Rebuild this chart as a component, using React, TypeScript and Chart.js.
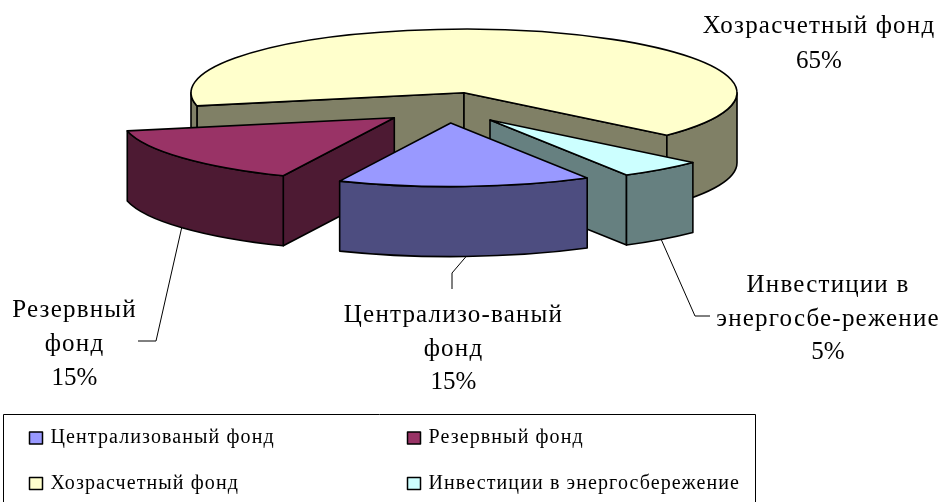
import React, { useEffect, useRef } from "react";
import { Chart, registerables } from "chart.js";

Chart.register(...registerables);

const categories = ["Централизованый фонд", "Резервный фонд", "Хозрасчетный фонд", "Инвестиции в энергосбережение"];
const shares = [15, 15, 65, 5];
const calloutLines = [["Централизо-ваный", "фонд"], ["Резервный", "фонд"], ["Хозрасчетный фонд"], ["Инвестиции в", "энергосбе-режение"]];
const topColors = ["#9999FF", "#993366", "#FFFFCC", "#CCFFFF"];
const wallColors = ["#4D4D80", "#4D1A33", "#808066", "#668080"];

// Projection of the flat pie produced by the library to the tilted 3D look
const CX = 464, CY = 92.7, RX = 273, RY = 63.6, DEPTH = 70;
const explodeX = [-13.3, -69.7, 0, 26];
const explodeY = [30.3, 25, 0, 27.3];
const paintOrder = [2, 1, 3, 0];
const calloutCenterX = [453.5, 74.5, 819, 828];
const calloutFirstBaseline = [322, 317, 33, 292];
const calloutLineGap = [33.5, 34, 35, 33.5];
const leaders: number[][][] = [
  [[465.7, 257], [452, 273], [452, 289]],
  [[181.7, 227.7], [156, 341], [138, 341]],
  [],
  [[661, 239], [695, 316], [710, 316]],
];
const legendSwatchX = [29, 407, 29, 407];
const legendSwatchY = [431.5, 431.5, 477, 477];

const SERIF = '"Liberation Serif", "Times New Roman", serif';
const TWO_PI = Math.PI * 2;

function drawSlice(ctx: CanvasRenderingContext2D, arc: any, i: number) {
  const a1 = arc.startAngle as number;
  const a2 = arc.endAngle as number;
  const ox = CX + explodeX[i];
  const oy = CY + explodeY[i];
  const pt = (a: number): [number, number] => [ox + RX * Math.cos(a), oy + RY * Math.sin(a)];

  ctx.lineJoin = "round";
  ctx.lineWidth = 1.6;
  ctx.strokeStyle = "#000";

  const wall = (a: number) => {
    const p = pt(a);
    ctx.beginPath();
    ctx.moveTo(ox, oy);
    ctx.lineTo(p[0], p[1]);
    ctx.lineTo(p[0], p[1] + DEPTH);
    ctx.lineTo(ox, oy + DEPTH);
    ctx.closePath();
    ctx.fillStyle = wallColors[i];
    ctx.fill();
    ctx.stroke();
  };
  // radial walls are only visible when they face the viewer
  if (Math.sin(a1 - Math.PI / 2) > 0) wall(a1);
  if (Math.sin(a2 + Math.PI / 2) > 0) wall(a2);

  // outer rim: the parts of the arc on the front half of the ellipse
  for (let k = -1; k <= 1; k++) {
    const lo = Math.max(a1, k * TWO_PI);
    const hi = Math.min(a2, k * TWO_PI + Math.PI);
    if (hi <= lo) continue;
    ctx.beginPath();
    ctx.ellipse(ox, oy, RX, RY, 0, lo, hi, false);
    ctx.ellipse(ox, oy + DEPTH, RX, RY, 0, hi, lo, true);
    ctx.closePath();
    ctx.fillStyle = wallColors[i];
    ctx.fill();
    ctx.stroke();
  }

  // top face
  ctx.beginPath();
  ctx.moveTo(ox, oy);
  ctx.ellipse(ox, oy, RX, RY, 0, a1, a2, false);
  ctx.closePath();
  ctx.fillStyle = topColors[i];
  ctx.fill();
  ctx.stroke();
}

const pie3dPlugin = {
  id: "pie3d",
  beforeDatasetDraw() {
    return false;
  },
  afterDatasetsDraw(chart: any) {
    const ctx: any = chart.ctx;
    const arcs = chart.getDatasetMeta(0).data;
    ctx.save();
    paintOrder.forEach((i) => drawSlice(ctx, arcs[i], i));

    // leader lines
    ctx.lineWidth = 1;
    ctx.strokeStyle = "#000";
    leaders.forEach((line) => {
      if (!line.length) return;
      ctx.beginPath();
      line.forEach(([x, y], k) => (k ? ctx.lineTo(x, y) : ctx.moveTo(x, y)));
      ctx.stroke();
    });

    // callouts
    ctx.fillStyle = "#000";
    ctx.font = `25px ${SERIF}`;
    ctx.textAlign = "center";
    ctx.textBaseline = "alphabetic";
    calloutLines.forEach((lines, i) => {
      ctx.letterSpacing = "1.2px";
      lines.forEach((t, k) => ctx.fillText(t, calloutCenterX[i], calloutFirstBaseline[i] + k * calloutLineGap[i]));
      ctx.letterSpacing = "0px";
      ctx.fillText(
        `${chart.data.datasets[0].data[i]}%`,
        calloutCenterX[i],
        calloutFirstBaseline[i] + lines.length * calloutLineGap[i]
      );
    });

    // legend
    ctx.lineWidth = 1;
    ctx.strokeStyle = "#000";
    ctx.strokeRect(3.5, 414.5, 752, 92);
    ctx.font = `20px ${SERIF}`;
    ctx.letterSpacing = "1.1px";
    ctx.textAlign = "left";
    ctx.textBaseline = "middle";
    chart.data.labels.forEach((label: string, i: number) => {
      const x = legendSwatchX[i];
      const y = legendSwatchY[i];
      ctx.fillStyle = topColors[i];
      ctx.lineWidth = 1.5;
      ctx.fillRect(x + 0.5, y + 0.5, 13, 12);
      ctx.strokeRect(x + 0.5, y + 0.5, 13, 12);
      ctx.fillStyle = "#000";
      ctx.fillText(label, x + 21.5, y + 6.5);
    });
    ctx.letterSpacing = "0px";
    ctx.restore();
  },
};

export default function App() {
  const ref = useRef<HTMLCanvasElement | null>(null);
  useEffect(() => {
    const chart = new Chart(ref.current!, {
      type: "pie",
      data: {
        labels: categories,
        datasets: [{ data: shares, backgroundColor: topColors, borderColor: "#000", borderWidth: 1 }],
      },
      options: {
        responsive: false,
        animation: false,
        rotation: 150,
        events: [],
        plugins: { legend: { display: false }, tooltip: { enabled: false } },
      },
      plugins: [pie3dPlugin],
    } as any);
    return () => chart.destroy();
  }, []);
  return (
    <div style={{ position: "absolute", left: 0, top: 0, width: 942, height: 502, background: "#fff", overflow: "hidden" }}>
      <canvas ref={ref} width={942} height={502} style={{ display: "block" }} />
    </div>
  );
}
